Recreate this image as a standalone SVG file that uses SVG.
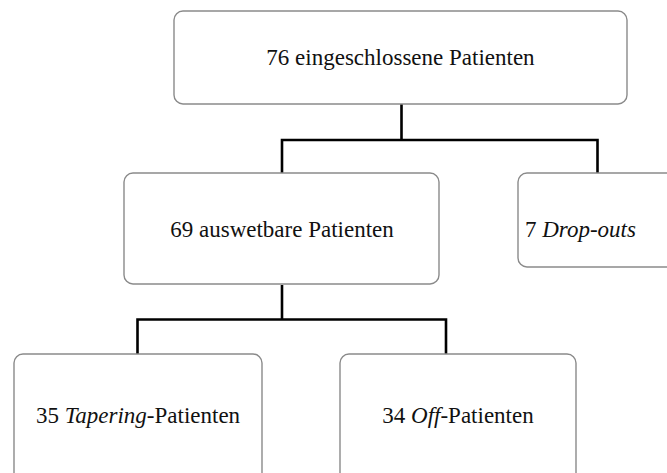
<svg xmlns="http://www.w3.org/2000/svg" width="667" height="473" viewBox="0 0 667 473">
<style>
.box{fill:#fff;stroke:#8a8a8a;stroke-width:1.4}
.c{fill:none;stroke:#000;stroke-width:2.6}
</style>
<rect width="667" height="473" fill="#fff"/>
<g id="connectors">
<path class="c" d="M401.5 104 V140 M282 173 V140 H597.5 V173"/>
<path class="c" d="M282 285 V319.5 M137.5 354 V319.5 H446 V354"/>
</g>
<g font-family="Liberation Serif, serif" font-size="23" fill="#111">
<g id="n1"><rect class="box" x="174" y="11" width="453" height="93" rx="9"/><text x="400.5" y="65" text-anchor="middle">76 eingeschlossene Patienten</text></g>
<g id="n2"><rect class="box" x="124" y="173" width="315" height="111" rx="9"/><text x="282" y="237" text-anchor="middle">69 auswetbare Patienten</text></g>
<g id="n3"><rect class="box" x="518" y="173" width="170" height="94" rx="9"/><text x="525" y="237">7 <tspan font-style="italic">Drop-outs</tspan></text></g>
<g id="n4"><rect class="box" x="14" y="354" width="248" height="130" rx="9"/><text x="138" y="423" text-anchor="middle">35 <tspan font-style="italic">Tapering</tspan>-Patienten</text></g>
<g id="n5"><rect class="box" x="340" y="354" width="236" height="130" rx="9"/><text x="458" y="423" text-anchor="middle">34 <tspan font-style="italic">Off</tspan>-Patienten</text></g>
</g>
</svg>
